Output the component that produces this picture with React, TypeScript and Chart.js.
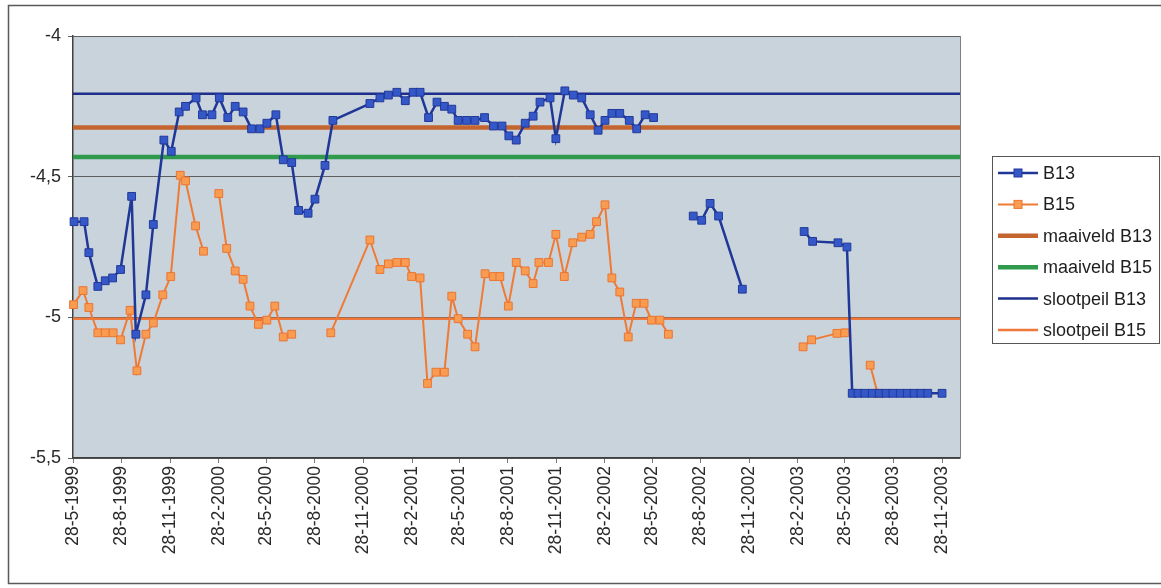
import React, { useEffect, useRef } from 'react';
import { Chart, registerables } from 'chart.js';

Chart.register(...registerables);

// X axis: days after 28-5-1999
const tickLabels = [
  '28-5-1999', '28-8-1999', '28-11-1999', '28-2-2000', '28-5-2000', '28-8-2000',
  '28-11-2000', '28-2-2001', '28-5-2001', '28-8-2001', '28-11-2001', '28-2-2002',
  '28-5-2002', '28-8-2002', '28-11-2002', '28-2-2003', '28-5-2003', '28-8-2003',
  '28-11-2003',
];
const axisEndDay = 1679;

const yTickValues = [-4, -4.5, -5, -5.5];

// B13 measurements (null = gap in the series)
const b13Days = [
  2, 21, 30, 47, 61, 75, 90, 111, 119, 138, 152, 172, 186, 201, 213, 233, 245, 263, 277, 293,
  307, 322, 338, 354, 367, 384, 398, 414, 427, 445, 458, 477, 492, 562, 581, 597, 613, 629, 644, 657,
  673, 689, 703, 717, 729, 745, 761, 779, 796, 812, 825, 839, 856, 871, 884, 903, 914, 931, 947, 963,
  979, 994, 1007, 1020, 1035, 1053, 1067, 1083, 1099, 1136, 1174, 1190, 1206, 1222, 1267, 1325,
  1384, 1400, 1448, 1465, 1475, 1486, 1499, 1513, 1526, 1539, 1552, 1566, 1579, 1592, 1605, 1618, 1645,
];
const b13Levels = [
  -4.66, -4.66, -4.77, -4.89, -4.87, -4.86, -4.83,
  -4.57, -5.06, -4.92, -4.67, -4.37, -4.41, -4.27,
  -4.25, -4.22, -4.28, -4.28, -4.22, -4.29, -4.25,
  -4.27, -4.33, -4.33, -4.31, -4.28, -4.44, -4.45,
  -4.62, -4.63, -4.58, -4.46, -4.30, -4.24, -4.22,
  -4.21, -4.20, -4.23, -4.20, -4.20, -4.29, -4.235,
  -4.25, -4.26, -4.30, -4.30, -4.30, -4.29, -4.32,
  -4.32, -4.355, -4.37, -4.31, -4.285, -4.235, -4.22,
  -4.365, -4.195, -4.21, -4.22, -4.28, -4.335, -4.30,
  -4.275, -4.275, -4.30, -4.33, -4.28, -4.29,
  null,
  -4.64, -4.655, -4.595, -4.64, -4.90,
  null,
  -4.695, -4.73, -4.735, -4.75,
  -5.27, -5.27, -5.27, -5.27, -5.27, -5.27, -5.27, -5.27, -5.27, -5.27, -5.27, -5.27, -5.27,
];

// B15 measurements (null = gap in the series)
const b15Days = [
  1, 19, 30, 47, 61, 76, 90, 108, 121, 138, 152, 170, 185, 203, 213, 232, 247, 262,
  276, 291, 307, 322, 335, 351, 367, 382, 398, 414, 450,
  488, 562, 581, 597, 613, 629, 641, 657, 671, 687, 703, 717, 729, 747, 761, 780, 796, 808,
  824, 839, 856, 871, 882, 900, 914, 930, 946, 963, 979, 991, 1007, 1020, 1035, 1051, 1066,
  1081, 1095, 1111, 1127, 1250, 1382, 1398, 1446, 1461, 1485, 1509, 1523,
];
const b15Levels = [
  -4.955, -4.905, -4.965, -5.055, -5.055, -5.055, -5.08, -4.975, -5.19, -5.06, -5.02, -4.92,
  -4.855, -4.495, -4.515, -4.675, -4.765, null,
  -4.56, -4.755, -4.835, -4.865, -4.96, -5.025, -5.01, -4.96, -5.07, -5.06, null,
  -5.055, -4.725, -4.83, -4.81, -4.805, -4.805, -4.855, -4.86, -5.235, -5.195, -5.195, -4.925,
  -5.005, -5.06, -5.105, -4.845, -4.855, -4.855,
  -4.96, -4.805, -4.835, -4.88, -4.805, -4.805, -4.705, -4.855, -4.735, -4.715, -4.705, -4.66,
  -4.60, -4.86, -4.91, -5.07, -4.95,
  -4.95, -5.01, -5.01, -5.06, null, -5.105, -5.08, -5.057, -5.055, null, -5.17, -5.27,
];

// Reference levels
const maaiveldB13 = -4.325;
const maaiveldB15 = -4.43;
const slootpeilB13 = -4.205;
const slootpeilB15 = -5.005;

const FONT = '"Liberation Sans", Arial, Helvetica, sans-serif';

function dayOffset(label: string): number {
  const [d, m, y] = label.split('-').map(Number);
  return Math.round((Date.UTC(y, m - 1, d) - Date.UTC(1999, 4, 28)) / 86400000);
}
const tickDays = tickLabels.map(dayOffset);

function series(days: number[], levels: (number | null)[]) {
  return days.map((d, i) => ({ x: d, y: levels[i] }));
}
function flat(level: number) {
  return [{ x: 0, y: level }, { x: axisEndDay, y: level }];
}

const frameAndBg = {
  id: 'frameAndBg',
  beforeDraw(chart: any) {
    const { ctx, chartArea } = chart;
    ctx.save();
    ctx.fillStyle = '#ffffff';
    ctx.fillRect(0, 0, chart.width, chart.height);
    ctx.strokeStyle = '#5a5a5a';
    ctx.lineWidth = 1.5;
    ctx.strokeRect(8.5, 5.5, chart.width + 10, 578);
    ctx.fillStyle = '#c9d3dc';
    ctx.fillRect(chartArea.left, chartArea.top, chartArea.right - chartArea.left, chartArea.bottom - chartArea.top);
    ctx.restore();
  },
  afterDraw(chart: any) {
    const { ctx, chartArea } = chart;
    ctx.save();
    ctx.strokeStyle = '#808080';
    ctx.lineWidth = 1;
    ctx.beginPath();
    ctx.moveTo(chartArea.right + 0.5, chartArea.top);
    ctx.lineTo(chartArea.right + 0.5, chartArea.bottom);
    ctx.stroke();
    ctx.restore();
  },
};

const boxLegend = {
  id: 'boxLegend',
  afterDraw(chart: any) {
    const { ctx, chartArea } = chart;
    const x0 = chartArea.right + 32;
    const y0 = 156;
    const w = 167;
    const h = 187;
    ctx.save();
    ctx.fillStyle = '#ffffff';
    ctx.fillRect(x0, y0, w, h);
    ctx.strokeStyle = '#555555';
    ctx.lineWidth = 1;
    ctx.strokeRect(x0 + 0.5, y0 + 0.5, w, h);
    ctx.font = `18px ${FONT}`;
    ctx.textBaseline = 'middle';
    ctx.textAlign = 'left';
    chart.data.datasets.forEach((ds: any, i: number) => {
      const y = y0 + 17 + i * 31.4;
      ctx.strokeStyle = ds.borderColor;
      ctx.lineWidth = ds.borderWidth;
      ctx.beginPath();
      ctx.moveTo(x0 + 6, y);
      ctx.lineTo(x0 + 46, y);
      ctx.stroke();
      if (ds.pointRadius > 0) {
        ctx.fillStyle = ds.pointBackgroundColor;
        ctx.strokeStyle = ds.pointBorderColor;
        ctx.lineWidth = 1;
        ctx.fillRect(x0 + 22, y - 4, 8, 8);
        ctx.strokeRect(x0 + 22, y - 4, 8, 8);
      }
      ctx.fillStyle = '#1e1e1e';
      ctx.fillText(ds.label, x0 + 51, y + 1);
    });
    ctx.restore();
  },
};

export default function App() {
  const canvasRef = useRef<HTMLCanvasElement | null>(null);

  useEffect(() => {
    if (!canvasRef.current) return;
    const chart = new Chart(canvasRef.current, {
      type: 'line',
      data: {
        datasets: [
          {
            label: 'B13',
            data: series(b13Days, b13Levels),
            borderColor: '#1f3796',
            borderWidth: 2.5,
            pointStyle: 'rect',
            pointRadius: 5.5,
            pointBackgroundColor: '#3558c8',
            pointBorderColor: '#22399a',
            pointBorderWidth: 1,
            spanGaps: false,
            tension: 0,
            clip: false,
          },
          {
            label: 'B15',
            data: series(b15Days, b15Levels),
            borderColor: '#ef7a35',
            borderWidth: 2,
            pointStyle: 'rect',
            pointRadius: 5.5,
            pointBackgroundColor: '#f89c52',
            pointBorderColor: '#ec7430',
            pointBorderWidth: 1,
            spanGaps: false,
            tension: 0,
            clip: false,
          },
          {
            label: 'maaiveld B13',
            data: flat(maaiveldB13),
            borderColor: '#c4642e',
            borderWidth: 4.5,
            pointRadius: 0,
          },
          {
            label: 'maaiveld B15',
            data: flat(maaiveldB15),
            borderColor: '#2f9a4c',
            borderWidth: 4.5,
            pointRadius: 0,
          },
          {
            label: 'slootpeil B13',
            data: flat(slootpeilB13),
            borderColor: '#1e2f8c',
            borderWidth: 2.5,
            pointRadius: 0,
          },
          {
            label: 'slootpeil B15',
            data: flat(slootpeilB15),
            borderColor: '#f0783a',
            borderWidth: 2.5,
            pointRadius: 0,
          },
        ],
      },
      options: {
        responsive: false,
        animation: false,
        events: [],
        layout: { padding: { top: 36, right: 201, left: 0, bottom: 0 } },
        plugins: {
          legend: { display: false },
          tooltip: { enabled: false },
        },
        scales: {
          x: {
            type: 'linear',
            min: 0,
            max: axisEndDay,
            afterBuildTicks: (scale: any) => {
              scale.ticks = tickDays.map((v) => ({ value: v }));
            },
            afterFit: (scale: any) => {
              scale.height = 130;
            },
            ticks: {
              autoSkip: false,
              maxRotation: 90,
              minRotation: 90,
              padding: 3,
              color: '#2a2a2a',
              font: { family: FONT, size: 17.5 },
              callback: (_v: any, i: number) => tickLabels[i],
            },
            grid: {
              drawOnChartArea: false,
              drawTicks: true,
              tickLength: 5,
              color: '#777777',
            },
            border: { display: true, color: '#404040', width: 1.5 },
          },
          y: {
            type: 'linear',
            min: -5.5,
            max: -4,
            afterBuildTicks: (scale: any) => {
              scale.ticks = yTickValues.map((v) => ({ value: v }));
            },
            afterFit: (scale: any) => {
              scale.width = 73;
            },
            ticks: {
              padding: 7,
              color: '#2a2a2a',
              font: { family: FONT, size: 18 },
              callback: (v: any) => String(v).replace('.', ','),
            },
            grid: {
              drawOnChartArea: true,
              drawTicks: true,
              tickLength: 5,
              color: '#5e5e5e',
              lineWidth: 1,
            },
            border: { display: true, color: '#404040', width: 1.5 },
          },
        },
      },
      plugins: [frameAndBg, boxLegend],
    });
    return () => chart.destroy();
  }, []);

  return (
    <div style={{ position: 'fixed', left: 0, top: 0, width: 1161, height: 588, background: '#fff' }}>
      <canvas ref={canvasRef} width={1161} height={588} style={{ display: 'block' }} />
    </div>
  );
}
